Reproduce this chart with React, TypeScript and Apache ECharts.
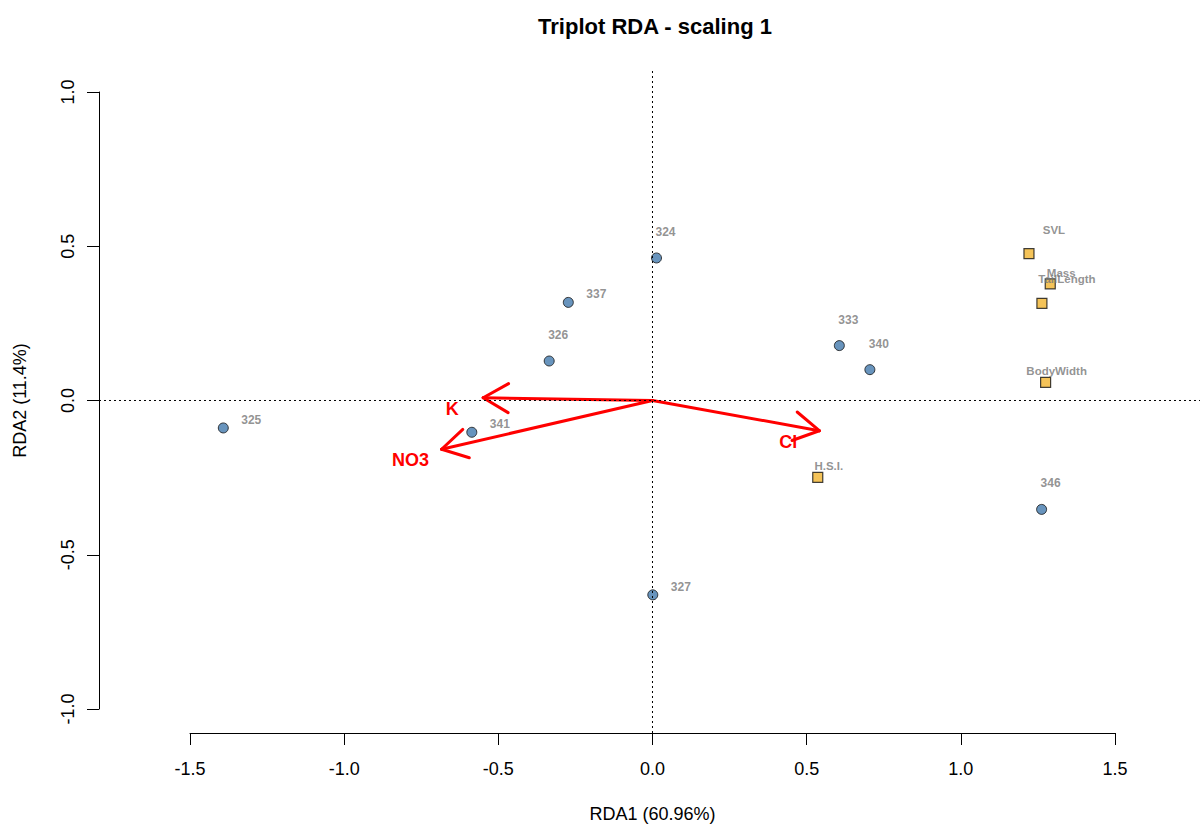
import React, { useEffect, useRef } from "react";
import * as echarts from "echarts";

const siteNames = ["324", "337", "326", "333", "340", "325", "341", "346", "327"];
const siteX = [0.013, -0.273, -0.335, 0.606, 0.705, -1.392, -0.586, 1.262, 0.001];
const siteY = [0.462, 0.318, 0.128, 0.178, 0.1, -0.089, -0.103, -0.353, -0.63];
const sitePlacement = ["top", "right", "top", "top", "top", "right", "right", "top", "right"];

const speciesNames = ["SVL", "Mass", "TailLength", "BodyWidth", "H.S.I."];
const speciesX = [1.221, 1.29, 1.263, 1.275, 0.536];
const speciesY = [0.476, 0.378, 0.315, 0.059, -0.249];
const speciesPlacement = ["far", "near", "far", "near", "near"];

const envNames = ["K", "NO3", "Cl"];
const envX = [-0.549, -0.684, 0.541];
const envY = [0.009, -0.158, -0.098];

const xTicks = [-1.5, -1.0, -0.5, 0.0, 0.5, 1.0, 1.5];
const yTicks = [-1.0, -0.5, 0.0, 0.5, 1.0];

const FONT = "Liberation Sans, Arial, sans-serif";
const XMIN = -1.7951;
const XMAX = 1.7757;
const YMIN = -1.0778;
const YMAX = 1.0713;

const siteOffsets: Record<string, number[]> = { top: [9, -26], right: [28, -8] };
const speciesOffsets: Record<string, number[]> = { far: [25, -24], near: [11, -11] };

export default function App() {
  const ref = useRef<HTMLDivElement>(null);
  useEffect(() => {
    if (!ref.current) return;
    const chart = echarts.init(ref.current, null, { renderer: "svg" });
    const option: any = {
      animation: false,
      backgroundColor: "#ffffff",
      textStyle: { fontFamily: FONT },
      title: {
        text: "Triplot RDA - scaling 1",
        left: 650,
        top: 10,
        textAlign: "center",
        textStyle: { fontSize: 22, fontWeight: "bold", color: "#000", fontFamily: FONT },
      },
      grid: [
        { left: 99, top: 70, width: 1101, height: 663 },
        { left: 190, top: 732, width: 925, height: 1 },
        { left: 99, top: 92, width: 1, height: 617 },
      ],
      xAxis: [
        { gridIndex: 0, type: "value", min: XMIN, max: XMAX, show: false },
        {
          gridIndex: 1,
          type: "value",
          min: xTicks[0],
          max: xTicks[xTicks.length - 1],
          interval: 0.5,
          position: "bottom",
          axisLine: { show: true, lineStyle: { color: "#000", width: 1 } },
          axisTick: { show: true, length: 12, lineStyle: { color: "#000" } },
          axisLabel: {
            margin: 27,
            fontSize: 18,
            color: "#000",
            fontFamily: FONT,
            formatter: (v: number) => v.toFixed(1),
          },
          splitLine: { show: false },
          name: "RDA1 (60.96%)",
          nameLocation: "middle",
          nameGap: 72,
          nameTextStyle: { fontSize: 18, color: "#000", fontFamily: FONT },
        },
        { gridIndex: 2, type: "value", min: 0, max: 1, show: false },
      ],
      yAxis: [
        { gridIndex: 0, type: "value", min: YMIN, max: YMAX, show: false },
        { gridIndex: 1, type: "value", min: 0, max: 1, show: false },
        {
          gridIndex: 2,
          type: "value",
          min: yTicks[0],
          max: yTicks[yTicks.length - 1],
          interval: 0.5,
          position: "left",
          axisLine: { show: true, lineStyle: { color: "#000", width: 1 } },
          axisTick: { show: true, length: 12, lineStyle: { color: "#000" } },
          axisLabel: {
            margin: 22,
            rotate: 90,
            fontSize: 18,
            color: "#000",
            fontFamily: FONT,
            formatter: (v: number) => v.toFixed(1),
          },
          splitLine: { show: false },
          name: "RDA2 (11.4%)",
          nameLocation: "middle",
          nameRotate: 90,
          nameGap: 70,
          nameTextStyle: { fontSize: 18, color: "#000", fontFamily: FONT },
        },
      ],
      series: [
        {
          type: "line",
          xAxisIndex: 0,
          yAxisIndex: 0,
          data: [
            [XMIN, 0],
            [XMAX, 0],
          ],
          symbol: "none",
          lineStyle: { color: "#000", width: 1, type: [2, 3] },
          silent: true,
        },
        {
          type: "line",
          xAxisIndex: 0,
          yAxisIndex: 0,
          data: [
            [0, YMIN],
            [0, YMAX],
          ],
          symbol: "none",
          lineStyle: { color: "#000", width: 1, type: [2, 3] },
          silent: true,
        },
        {
          type: "custom",
          xAxisIndex: 0,
          yAxisIndex: 0,
          data: envNames.map((n, i) => [envX[i], envY[i], n]),
          renderItem: (params: any, api: any) => {
            const o = api.coord([0, 0]);
            const t = api.coord([api.value(0), api.value(1)]);
            const a = Math.atan2(t[1] - o[1], t[0] - o[0]);
            const L = 29;
            const h = Math.PI / 6;
            const p1 = [t[0] - L * Math.cos(a - h), t[1] - L * Math.sin(a - h)];
            const p2 = [t[0] - L * Math.cos(a + h), t[1] - L * Math.sin(a + h)];
            const ls = { stroke: "#ff0000", lineWidth: 3, lineCap: "round" };
            return {
              type: "group",
              children: [
                { type: "line", shape: { x1: o[0], y1: o[1], x2: t[0], y2: t[1] }, style: ls },
                { type: "line", shape: { x1: t[0], y1: t[1], x2: p1[0], y2: p1[1] }, style: ls },
                { type: "line", shape: { x1: t[0], y1: t[1], x2: p2[0], y2: p2[1] }, style: ls },
                {
                  type: "text",
                  x: t[0] - 31,
                  y: t[1] + 11,
                  style: {
                    text: envNames[params.dataIndex],
                    fill: "#ff0000",
                    font: `bold 18px ${FONT}`,
                    align: "center",
                    verticalAlign: "middle",
                  },
                },
              ],
            };
          },
        },
        {
          type: "scatter",
          xAxisIndex: 0,
          yAxisIndex: 0,
          symbol: "circle",
          symbolSize: 10,
          itemStyle: { color: "#4279AC", borderColor: "#111", borderWidth: 1 },
          data: siteNames.map((n, i) => ({
            name: n,
            value: [siteX[i], siteY[i]],
            label: { offset: siteOffsets[sitePlacement[i]] },
          })),
          label: {
            show: true,
            position: "inside",
            formatter: (p: any) => p.name,
            color: "#777777",
            fontSize: 12,
            fontWeight: "bold",
            fontFamily: FONT,
            align: "center",
            verticalAlign: "middle",
          },
        },
        {
          type: "scatter",
          xAxisIndex: 0,
          yAxisIndex: 0,
          symbol: "rect",
          symbolSize: 10,
          itemStyle: { color: "#F1B42F", borderColor: "#111", borderWidth: 1.2 },
          data: speciesNames.map((n, i) => ({
            name: n,
            value: [speciesX[i], speciesY[i]],
            label: { offset: speciesOffsets[speciesPlacement[i]] },
          })),
          label: {
            show: true,
            position: "inside",
            formatter: (p: any) => p.name,
            color: "#777777",
            fontSize: 11.5,
            fontWeight: "bold",
            fontFamily: FONT,
            align: "center",
            verticalAlign: "middle",
          },
        },
      ],
    };
    chart.setOption(option);
    return () => chart.dispose();
  }, []);
  return (
    <div
      ref={ref}
      style={{ position: "absolute", left: 0, top: 0, width: 1201, height: 828 }}
    />
  );
}
